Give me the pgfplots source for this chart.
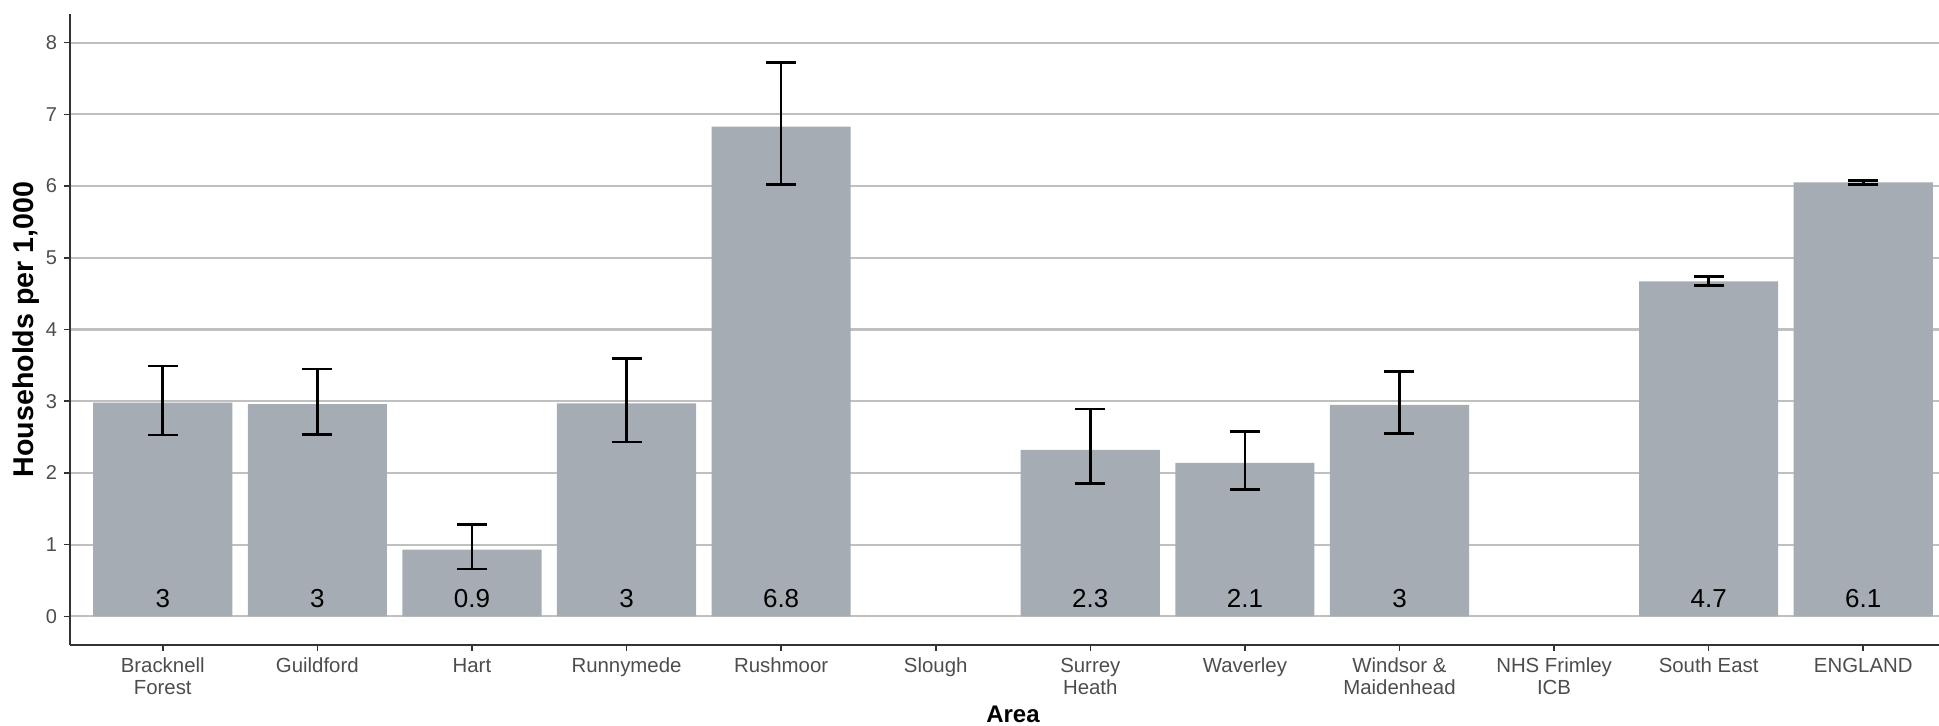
\documentclass[border=0pt]{standalone}
\usepackage{fontspec}
\setmainfont{Liberation Sans}
\usepackage{pgfplots}
\usepackage{pgfplotstable}
\pgfplotsset{compat=1.18}
\definecolor{barcol}{RGB}{165,172,179}
\definecolor{gridcol}{RGB}{192,192,192}
\definecolor{axcol}{RGB}{51,51,51}
\definecolor{tickcol}{RGB}{77,77,77}
\pgfplotstableread{
x y ep em label
0 2.98 0.51 0.45 3
1 2.96 0.49 0.42 3
2 0.93 0.35 0.27 0.9
3 2.97 0.63 0.54 3
4 6.83 0.89 0.81 6.8
6 2.32 0.57 0.47 2.3
7 2.14 0.44 0.37 2.1
8 2.95 0.46 0.40 3
10 4.67 0.07 0.06 4.7
11 6.05 0.03 0.03 6.1
}\datatab
\begin{document}
\begin{tikzpicture}
\begin{axis}[
  scale only axis,
  width=943pt, height=315.5pt,
  xmin=-0.6, xmax=11.6,
  ymin=-0.4, ymax=8.4,
  axis x line=bottom, axis y line=left,
  axis line style={-, axcol, line width=1pt},
  xtick={0,...,11},
  xticklabels={{Bracknell\\Forest},Guildford,Hart,Runnymede,Rushmoor,Slough,{Surrey\\Heath},Waverley,{Windsor \&\\Maidenhead},{NHS Frimley\\ICB},South East,ENGLAND},
  ytick={0,...,8},
  tick align=outside,
  major tick length=3pt,
  tick style={axcol, line width=0.8pt},
  /pgf/number format/assume math mode=true,
  xticklabel style={align=center, font=\fontsize{10.2}{11}\selectfont, text=tickcol},
  yticklabel style={font=\fontsize{10}{11}\selectfont, text=tickcol},
  ymajorgrids,
  grid style={gridcol, line width=1.1pt},
  bar width=0.9,
  xlabel={Area},
  ylabel={Households per 1,000},
  xlabel style={font=\bfseries\fontsize{12}{14}\selectfont, at={(axis description cs:0.5,0)}, anchor=center, yshift=-34.5pt},
  ylabel style={font=\bfseries\fontsize{14.3}{16}\selectfont, at={(axis description cs:0,0.5)}, anchor=center, yshift=22pt},
  clip=false,
]
\addplot[ybar, fill=barcol, draw=none,
  error bars/.cd, y dir=both, y explicit,
  error mark=|,
  error bar style={black, line width=1.35pt},
  error mark options={black, line width=1.35pt, mark size=7.5pt}]
  table[x=x, y=y, y error plus=ep, y error minus=em] {\datatab};
\addplot[draw=none, mark=none, nodes near coords, point meta=explicit symbolic,
  every node near coord/.append style={anchor=center, font=\fontsize{13}{15}\selectfont, text=black}]
  table[x=x, y expr=0.245, meta=label] {\datatab};
\end{axis}
\pgfresetboundingbox
\path (current axis.south west) ++(-35pt,-40.5pt) rectangle ++(969.5pt,363pt);
\end{tikzpicture}
\end{document}
